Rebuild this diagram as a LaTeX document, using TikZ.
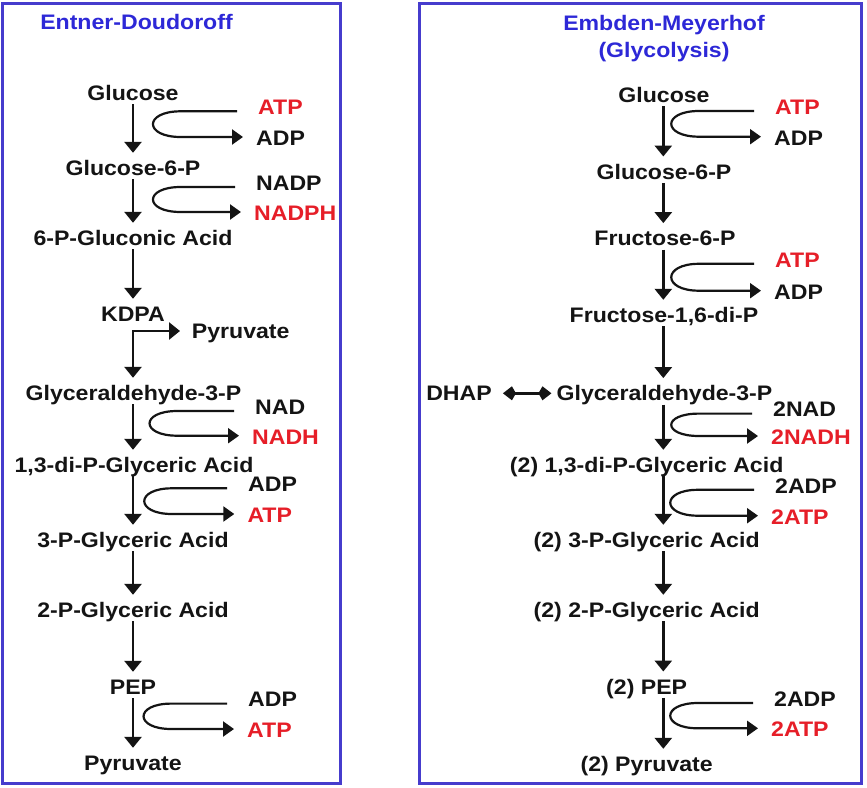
\documentclass[tikz,border=0pt]{standalone}
\usepackage{fontspec}
\setmainfont[FakeStretch=1.1]{Liberation Sans}
\usetikzlibrary{arrows.meta,calc}
\definecolor{rxred}{RGB}{230,30,40}
\definecolor{ttlblue}{RGB}{45,40,215}
\definecolor{boxblue}{RGB}{70,60,205}
\definecolor{ink}{RGB}{20,20,20}
\newcommand\swapcurve[3]{%
  \draw[cyc] let \p1=($(#1.west)+(-21,4.3)$), \p2=($(#2.west)+(-13,-1)$) in
    (\p1) -- (#3+28,\y1) .. controls (#3-9,\y1) and (#3-9,\y2) .. (#3+28,\y2) -- (\x2,\y2);}
\begin{document}
\begin{tikzpicture}[x=1pt,y=-1pt,
  every node/.style={font=\fontsize{21}{23}\selectfont\bfseries, text=ink, inner sep=0pt,
    text height=18.5pt, text depth=3.5pt},
  cof/.style={anchor=west},
  made/.style={text=rxred},
  ttl/.style={text=ttlblue},
  frame/.style={draw=boxblue, line width=2.5pt},
  flow/.style={draw=ink, line width=2.8pt, -{Triangle[width=17pt,length=11pt]}, shorten >=4pt},
  cyc/.style={draw=ink, line width=2.2pt, -{Triangle[width=15pt,length=11pt]}},
  dbl/.style={draw=ink, line width=2.4pt, {Kite[width=14pt,length=13pt,inset=4pt]}-{Kite[width=14pt,length=13pt,inset=4pt]}}
]
\fill[white] (0,0) rectangle (867,787);
\useasboundingbox (0,0) rectangle (867,787);
\draw[frame] (2.5,3.5) rectangle (340.5,783.5);
\draw[frame] (419.5,3.5) rectangle (861.5,783.5);

% ---------------- Entner-Doudoroff ----------------
\node[ttl] (edT) at (136.5,22) {Entner-Doudoroff};
\coordinate (eAx) at (133,0);
\node (eGlc) at (133,93) {Glucose};
\node (eG6P) at (133,168) {Glucose-6-P};
\node (e6PG) at (133,238) {6-P-Gluconic Acid};
\node (eKDPA) at (133,314) {KDPA};
\coordinate (eFork) at (133,331);
\node[cof] (ePyrS) at (191.7,331) {Pyruvate};
\node (eGAP) at (133.5,393) {Glyceraldehyde-3-P};
\node (eBPG) at (134,465) {1,3-di-P-Glyceric Acid};
\node (e3PG) at (133,540) {3-P-Glyceric Acid};
\node (e2PG) at (133,610) {2-P-Glyceric Acid};
\node (ePEP) at (133,687) {PEP};
\node (ePyr) at (133,763) {Pyruvate};

\draw[flow] (eGlc.south -| eAx) -- (eG6P.north -| eAx);
\draw[flow] (eG6P.south -| eAx) -- (e6PG.north -| eAx);
\draw[flow] (e6PG.south -| eAx) -- (eKDPA.north -| eAx);
\draw[flow, {Triangle[width=17pt,length=11pt]}-{Triangle[width=17pt,length=11pt]}, shorten <=4pt, shorten >=11.7pt]
  (eGAP.north -| eAx) -- (eFork) -- (ePyrS.west);
\draw[flow] (eGAP.south -| eAx) -- (eBPG.north -| eAx);
\draw[flow] (eBPG.south -| eAx) -- (e3PG.north -| eAx);
\draw[flow] (e3PG.south -| eAx) -- (e2PG.north -| eAx);
\draw[flow] (e2PG.south -| eAx) -- (ePEP.north -| eAx);
\draw[flow] (ePEP.south -| eAx) -- (ePyr.north -| eAx);

\node[cof,made] (eATP1) at (258,107) {ATP};
\node[cof] (eADP1) at (256,138) {ADP};
\node[cof] (eNADP) at (256,182.7) {NADP};
\node[cof,made] (eNADPH) at (254,213) {NADPH};
\node[cof] (eNAD) at (255,406.7) {NAD};
\node[cof,made] (eNADH) at (252,436.7) {NADH};
\node[cof] (eADP2) at (248,484) {ADP};
\node[cof,made] (eATP2) at (247.3,515) {ATP};
\node[cof] (eADP3) at (248,699.3) {ADP};
\node[cof,made] (eATP3) at (247,730) {ATP};
\swapcurve{eATP1}{eADP1}{152.7}
\swapcurve{eNADP}{eNADPH}{152.7}
\swapcurve{eNAD}{eNADH}{149.3}
\swapcurve{eADP2}{eATP2}{144}
\swapcurve{eADP3}{eATP3}{143.3}

% ---------------- Embden-Meyerhof ----------------
\node[ttl] (emT1) at (664,22.7) {Embden-Meyerhof};
\node[ttl] (emT2) at (664,50) {(Glycolysis)};
\coordinate (mAx) at (663.3,0);
\node (mGlc) at (664,95) {Glucose};
\node (mG6P) at (664,171.7) {Glucose-6-P};
\node (mF6P) at (665,238.3) {Fructose-6-P};
\node (mFBP) at (664,315) {Fructose-1,6-di-P};
\node (mGAP) at (664.5,393.3) {Glyceraldehyde-3-P};
\node (mDHAP) at (459,393.3) {DHAP};
\node (mBPG) at (664,465) {\llap{(2) }1,3-di-P-Glyceric Acid};
\node (m3PG) at (664,540) {\llap{(2) }3-P-Glyceric Acid};
\node (m2PG) at (664,610) {\llap{(2) }2-P-Glyceric Acid};
\node (mPEP) at (664,686.7) {\llap{(2) }PEP};
\node (mPyr) at (664,764) {\llap{(2) }Pyruvate};

\draw[flow] (mGlc.south -| mAx) -- (mG6P.north -| mAx);
\draw[flow] (mG6P.south -| mAx) -- (mF6P.north -| mAx);
\draw[flow] (mF6P.south -| mAx) -- (mFBP.north -| mAx);
\draw[flow] (mFBP.south -| mAx) -- (mGAP.north -| mAx);
\draw[flow] (mGAP.south -| mAx) -- (mBPG.north -| mAx);
\draw[flow] (mBPG.south -| mAx) -- (m3PG.north -| mAx);
\draw[flow] (m3PG.south -| mAx) -- (m2PG.north -| mAx);
\draw[flow] (m2PG.south -| mAx) -- (mPEP.north -| mAx);
\draw[flow] (mPEP.south -| mAx) -- (mPyr.north -| mAx);
\draw[dbl, shorten <=11pt, shorten >=5pt] (mDHAP.east) -- (mGAP.west);

\node[cof,made] (mATP1) at (775,106.7) {ATP};
\node[cof] (mADP1) at (774,137.7) {ADP};
\node[cof,made] (mATP2) at (775,259.5) {ATP};
\node[cof] (mADP2) at (774,291.7) {ADP};
\node[cof] (m2NAD) at (773,409.3) {2NAD};
\node[cof,made] (m2NADH) at (771,437) {2NADH};
\node[cof] (m2ADP1) at (775,485.5) {2ADP};
\node[cof,made] (m2ATP1) at (771,516.7) {2ATP};
\node[cof] (m2ADP2) at (774,698.7) {2ADP};
\node[cof,made] (m2ATP2) at (771,729.3) {2ATP};
\swapcurve{mATP1}{mADP1}{671}
\swapcurve{mATP2}{mADP2}{671}
\swapcurve{m2NAD}{m2NADH}{671}
\swapcurve{m2ADP1}{m2ATP1}{670}
\swapcurve{m2ADP2}{m2ATP2}{670}
\end{tikzpicture}
\end{document}
